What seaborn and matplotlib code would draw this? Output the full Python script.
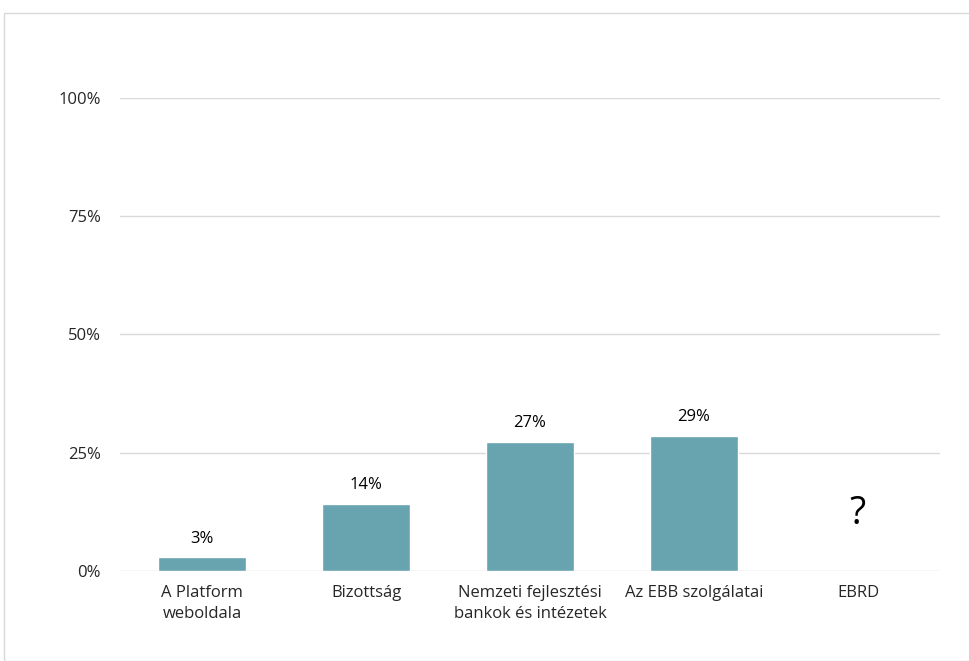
import numpy as np
import pandas as pd
import matplotlib.pyplot as plt
import seaborn as sns
from matplotlib.patches import Rectangle

# adatok
kategoriak = ["A Platform\nweboldala", "Bizottság", "Nemzeti fejlesztési\nbankok és intézetek",
              "Az EBB szolgálatai", "EBRD"]
ertekek = [2.9, 14.2, 27.3, 28.6, np.nan]
cimkek = ["3%", "14%", "27%", "29%", "?"]
y_tickek = [0, 25, 50, 75, 100]

df = pd.DataFrame({"kategoria": kategoriak, "ertek": ertekek})

sns.set_theme(style="white")
plt.rcParams['font.family'] = ['Open Sans', 'DejaVu Sans']

fig = plt.figure(figsize=(9.69, 6.61), dpi=100)
ax = fig.add_axes([0.124, 0.136, 0.846, 0.716])

sns.barplot(data=df, x="kategoria", y="ertek", color="#67A4B0", saturation=1,
            width=0.54, ax=ax)

ax.set_ylim(0, 100)
ax.set_yticks(y_tickek)
ax.set_yticklabels([f"{v}%" for v in y_tickek], fontsize=12)
ax.tick_params(axis='x', labelsize=12, length=0, pad=10)
ax.tick_params(axis='y', length=0, pad=14)
for t in ax.get_xticklabels():
    t.set_linespacing(1.45)
ax.set_xlabel("")
ax.set_ylabel("")
ax.yaxis.grid(True, color="#D9D9D9", linewidth=1)
ax.set_axisbelow(True)
for s in ax.spines.values():
    s.set_visible(False)

for i, (v, c) in enumerate(zip(ertekek, cimkek)):
    if np.isnan(v):
        ax.text(i, 8, c, ha="center", va="bottom", fontsize=27, color="black")
    else:
        ax.text(i, v + 2.2, c, ha="center", va="bottom", fontsize=12, color="black")

fig.patches.append(Rectangle((4 / 969, 0), 1, 1 - 13 / 661, transform=fig.transFigure,
                             fill=False, edgecolor="#D9D9D9", linewidth=1))

fig.savefig("out.png", dpi=100)
